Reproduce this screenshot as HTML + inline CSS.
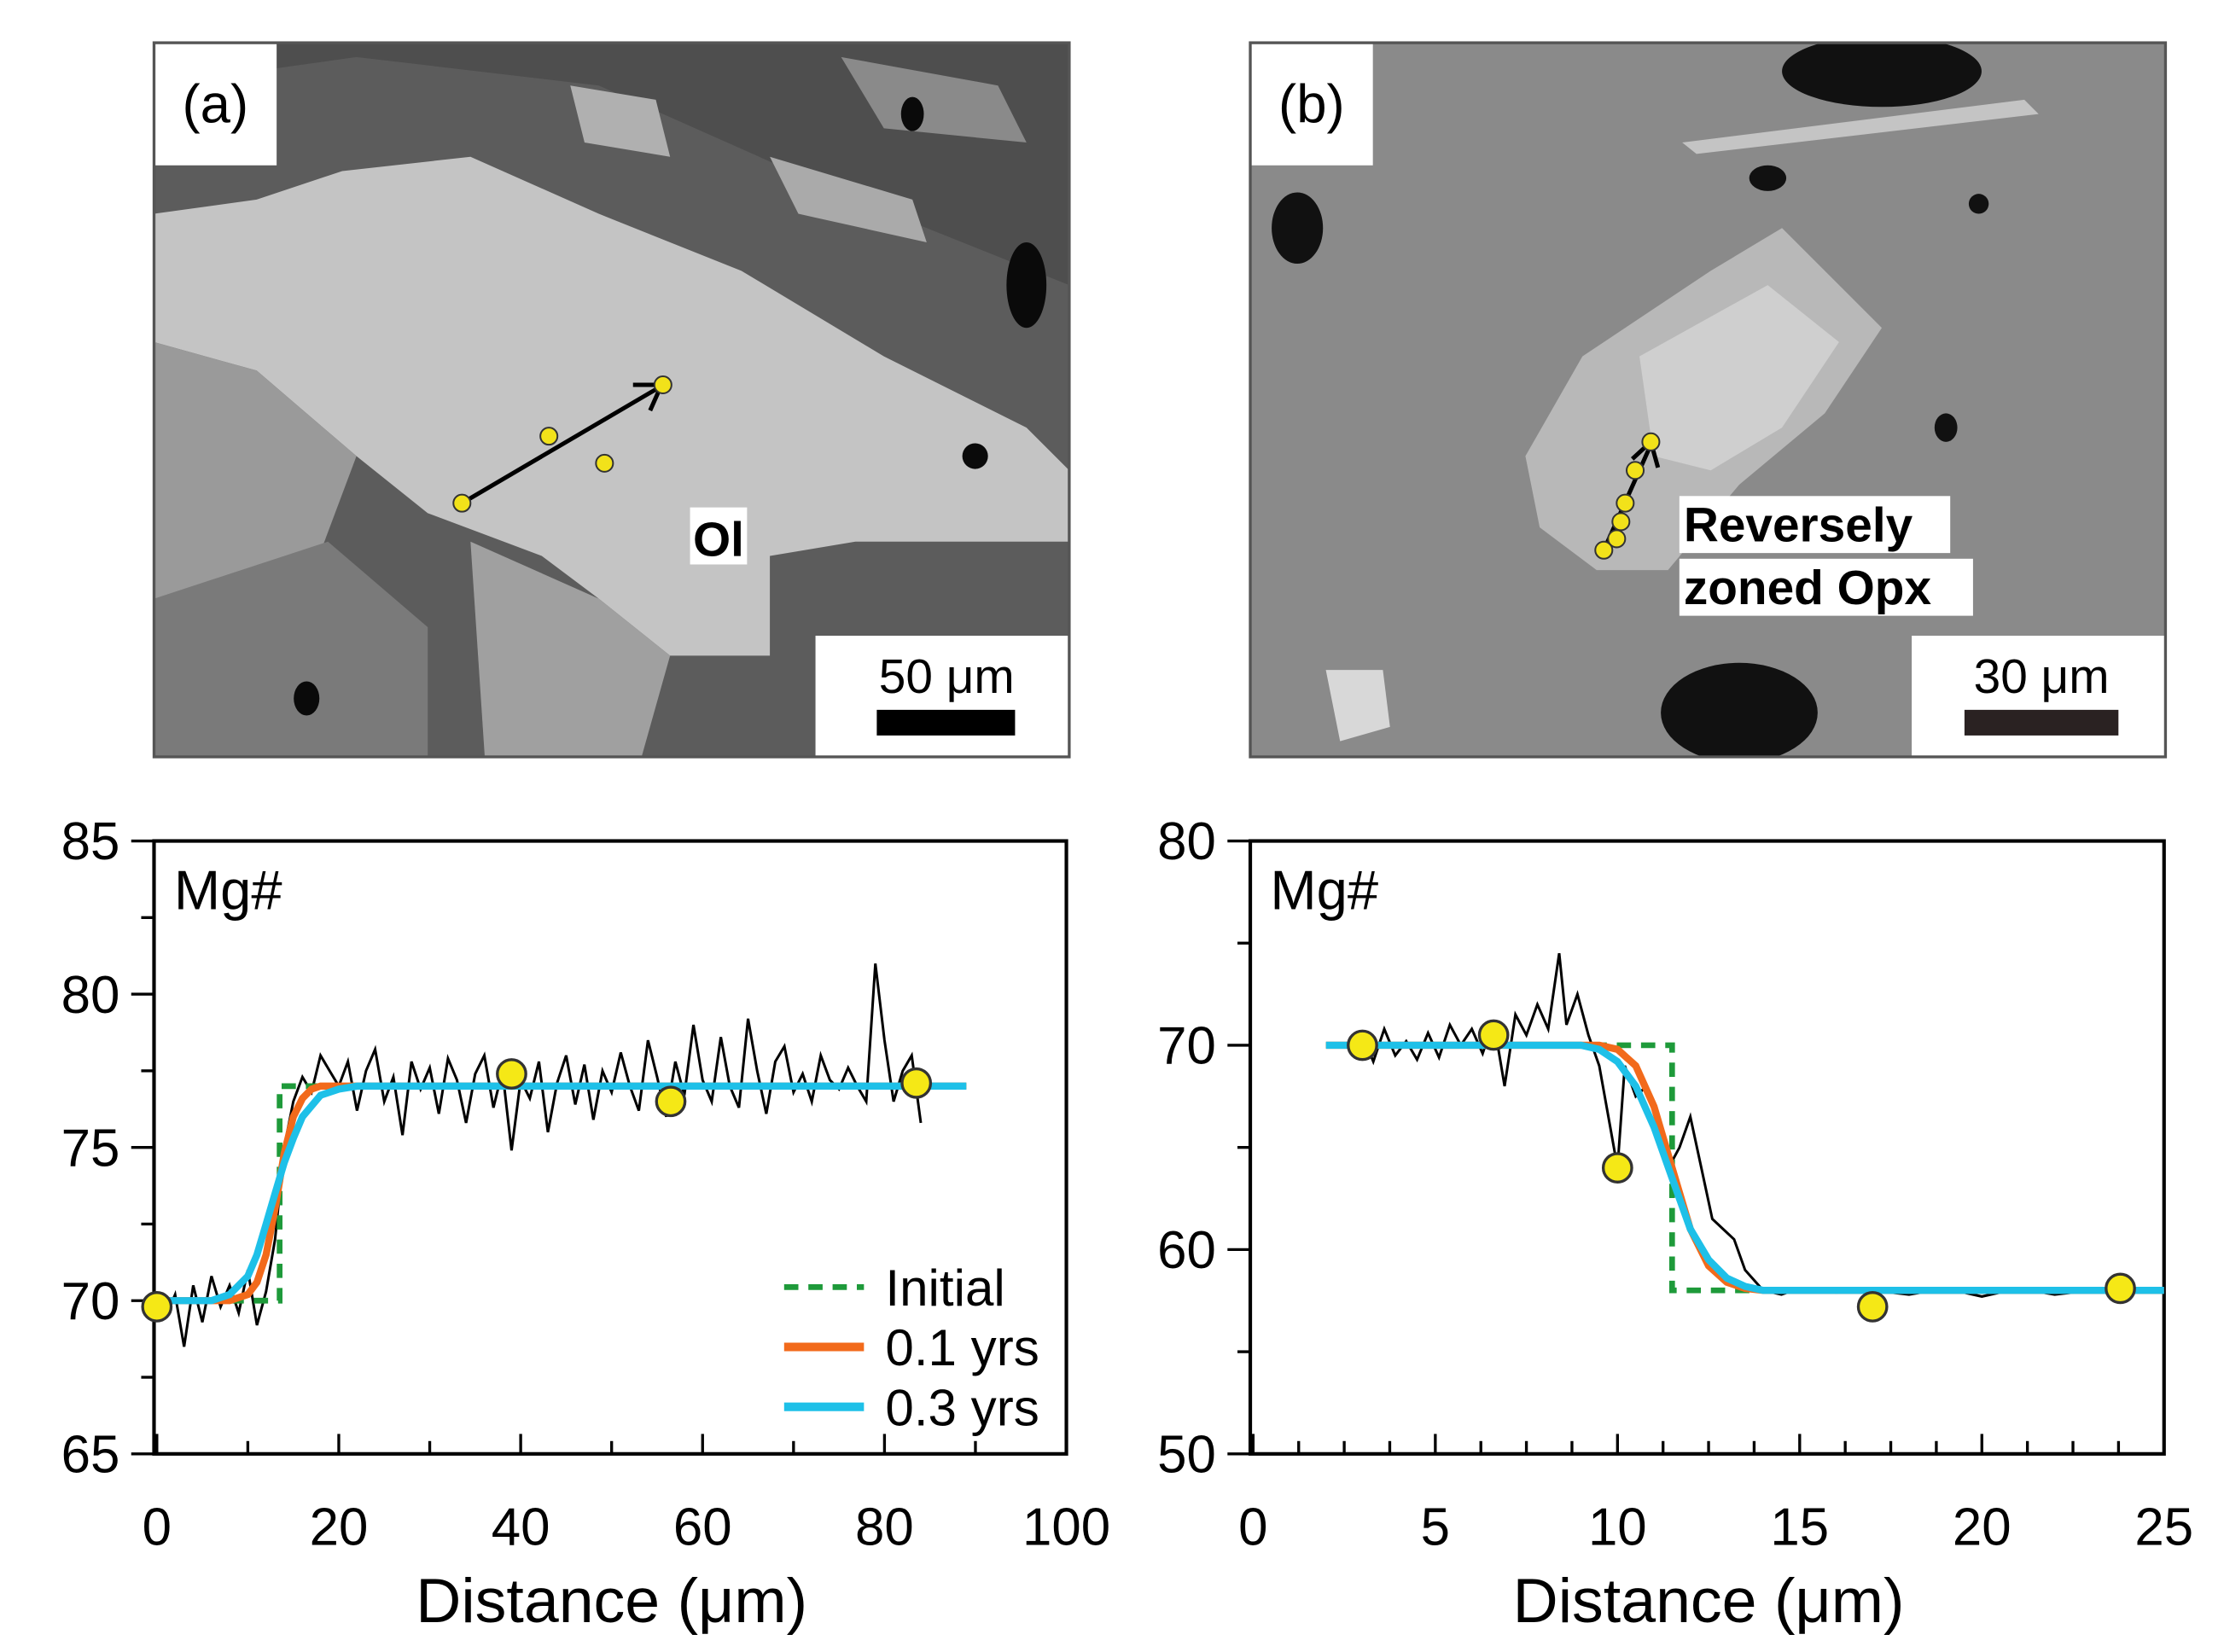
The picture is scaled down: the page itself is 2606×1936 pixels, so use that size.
<!DOCTYPE html>
<html><head><meta charset="utf-8"><style>
html,body{margin:0;padding:0;background:#fff}
svg{display:block}
text{font-family:"Liberation Sans",sans-serif}
</style></head><body>
<svg id="fig" width="2606" height="1936" viewBox="0 0 1560 1159" xmlns="http://www.w3.org/2000/svg">
<defs>
<clipPath id="ca"><rect x="108" y="30" width="642" height="501"/></clipPath>
<clipPath id="cb"><rect x="877" y="30" width="642" height="501"/></clipPath>
</defs>
<g clip-path="url(#ca)">
<rect x="108" y="30" width="642" height="501" fill="#5c5c5c"/>
<polygon points="108,30 750,30 750,200 600,140 420,60 250,40 108,60" fill="#4e4e4e"/>
<polygon points="108,150 180,140 240,120 330,110 420,150 520,190 620,250 720,300 750,330 750,380 600,380 540,390 540,460 470,460 420,420 380,390 300,360 250,320 180,260 108,240" fill="#c4c4c4"/>
<polygon points="108,240 180,260 250,320 220,400 108,420" fill="#9a9a9a"/>
<polygon points="108,420 230,380 300,440 300,531 108,531" fill="#7a7a7a"/>
<polygon points="330,380 420,420 470,460 450,531 340,531" fill="#a0a0a0"/>
<polygon points="400,60 460,70 470,110 410,100" fill="#b0b0b0"/>
<polygon points="540,110 640,140 650,170 560,150" fill="#aaaaaa"/>
<polygon points="590,40 700,60 720,100 620,90" fill="#8a8a8a"/>
<ellipse cx="720" cy="200" rx="14" ry="30" fill="#0a0a0a"/>
<ellipse cx="640" cy="80" rx="8" ry="12" fill="#0a0a0a"/>
<ellipse cx="684" cy="320" rx="9" ry="9" fill="#0a0a0a"/>
<ellipse cx="215" cy="490" rx="9" ry="12" fill="#0a0a0a"/>
<rect x="108" y="30" width="86" height="86" fill="#fff"/>
<rect x="572" y="446" width="178" height="85" fill="#fff"/>
</g>
<rect x="108" y="30" width="642" height="501" fill="none" stroke="#555" stroke-width="2"/>
<text x="151" y="86" font-size="38" text-anchor="middle">(a)</text>
<text x="664" y="486" font-size="34" text-anchor="middle">50 μm</text>
<rect x="615" y="498" width="97" height="18" fill="#000"/>
<line x1="324" y1="353" x2="462" y2="272" stroke="#000" stroke-width="3"/>
<polyline points="444,270 464,270 456,288" fill="none" stroke="#000" stroke-width="3"/>
<g fill="#f2e21a" stroke="#333" stroke-width="1.2">
<circle cx="324" cy="353" r="6"/><circle cx="385" cy="306" r="6"/><circle cx="424" cy="325" r="6"/><circle cx="465" cy="270" r="6"/></g>
<rect x="484" y="356" width="40" height="40" fill="#fff"/>
<text x="504" y="390" font-size="34" font-weight="bold" text-anchor="middle">Ol</text>

<g clip-path="url(#cb)">
<rect x="877" y="30" width="642" height="501" fill="#8a8a8a"/>
<polygon points="1070,320 1110,250 1200,190 1250,160 1320,230 1280,290 1220,340 1170,400 1120,400 1080,370" fill="#b8b8b8"/>
<polygon points="1150,250 1240,200 1290,240 1250,300 1200,330 1160,320" fill="#cfcfcf"/>
<polygon points="1180,100 1420,70 1430,80 1190,108" fill="#c4c4c4"/>
<ellipse cx="1320" cy="50" rx="70" ry="25" fill="#111"/>
<ellipse cx="1220" cy="500" rx="55" ry="35" fill="#111"/>
<ellipse cx="910" cy="160" rx="18" ry="25" fill="#111"/>
<ellipse cx="1240" cy="125" rx="13" ry="9" fill="#111"/>
<ellipse cx="1365" cy="300" rx="8" ry="10" fill="#111"/>
<ellipse cx="1388" cy="143" rx="7" ry="7" fill="#111"/>
<polygon points="930,470 970,470 975,510 940,520" fill="#d8d8d8"/>
<rect x="877" y="30" width="86" height="86" fill="#fff"/>
<rect x="1341" y="446" width="178" height="85" fill="#fff"/>
</g>
<rect x="877" y="30" width="642" height="501" fill="none" stroke="#555" stroke-width="2"/>
<text x="920" y="86" font-size="38" text-anchor="middle">(b)</text>
<text x="1432" y="486" font-size="34" text-anchor="middle">30 μm</text>
<rect x="1378" y="498" width="108" height="18" fill="#2a2222"/>
<line x1="1125" y1="386" x2="1158" y2="312" stroke="#000" stroke-width="3"/>
<polyline points="1145,322 1158,310 1163,328" fill="none" stroke="#000" stroke-width="3"/>
<g fill="#f2e21a" stroke="#333" stroke-width="1.2">
<circle cx="1125" cy="386" r="6"/><circle cx="1134" cy="378" r="6"/><circle cx="1137" cy="366" r="6"/><circle cx="1140" cy="353" r="6"/><circle cx="1147" cy="330" r="6"/><circle cx="1158" cy="310" r="6"/></g>
<rect x="1178" y="348" width="190" height="40" fill="#fff"/>
<rect x="1178" y="392" width="206" height="40" fill="#fff"/>
<text x="1181" y="380" font-size="34" font-weight="bold">Reversely</text>
<text x="1181" y="424" font-size="34" font-weight="bold">zoned Opx</text>

<g id="plotA"></g>
<g id="plotB"></g>
</svg>
<script>
const aXTicks = [0,20,40,60,80,100];
const aYTicks = [65,70,75,80,85];
const aInitX = [0,13.5,13.5,89];
const aInitY = [70,70,77,77];
const aCurve01X = [0,8,10,11,12,13,14,15,16,17,18,20,89];
const aCurve01Y = [70,70,70.2,70.6,71.5,73,74.8,76,76.6,76.9,77,77,77];
const aCurve03X = [0,6,8,10,11,12,13,14,15,16,18,20,22,89];
const aCurve03Y = [70,70,70.2,70.8,71.5,72.5,73.5,74.5,75.3,76,76.7,76.9,77,77];
const aMeasStep = 1;
const aMeasY = [70,69.5,70.2,68.5,70.5,69.3,70.8,69.8,70.5,69.6,71,69.2,70.3,72,75,76.5,77.3,76.8,78,77.5,77,
77.8,76.2,77.5,78.2,76.5,77.3,75.4,77.8,76.9,77.6,76.1,77.9,77.2,75.8,77.4,78,76.3,77.5,74.9,77.2,76.6,77.8,75.5,77.1,78,76.4,77.7,75.9,77.5,76.8,78.1,77,76.2,78.5,77.3,76,77.8,76.7,79,77.2,76.5,78.6,77,76.3,79.2,77.5,76.1,77.8,78.3,76.8,77.4,76.5,78,77.2,76.9,77.6,77,76.5,81,78.5,76.5,77.5,78,75.8];
const aPtX = [0,39,56.5,83.5];
const aPtY = [69.8,77.4,76.5,77.1];
const bXTicks = [0,5,10,15,20,25];
const bYTicks = [50,60,70,80];
const bInitX = [2,11.5,11.5,25];
const bInitY = [70,70,58,58];
const bCurve01X = [2,9.5,10,10.5,11,11.5,12,12.5,13,13.5,14,25];
const bCurve01Y = [70,70,69.8,69,67,64,61,59.2,58.4,58.1,58,58];
const bCurve03X = [2,9,9.5,10,10.5,11,11.5,12,12.5,13,13.5,14,25];
const bCurve03Y = [70,70,69.8,69.2,68,66,63.5,61,59.5,58.6,58.2,58,58];
const bMeasX = [3,3.3,3.6,3.9,4.2,4.5,4.8,5.1,5.4,5.7,6,6.3,6.6,6.9,7.2,7.5,7.8,8.1,8.4,8.6,8.9,9.2,9.5,9.8,10,10.2,10.5,10.8,11.1,11.4,11.7,12,12.3,12.6,12.9,13.2,13.5,14,14.5,15,16,17,18,19,20,21,22,23,24,25];
const bMeasY = [70.5,69.2,70.8,69.5,70.2,69.3,70.6,69.4,71,70,70.8,69.6,71.2,68,71.5,70.5,72,70.8,74.5,71,72.5,70.5,69,66,64,69,67.5,68,66.5,64,65,66.5,64,61.5,61,60.5,59,58,57.8,58.1,57.9,58,57.8,58.1,57.7,58.1,57.8,58,58.1,58];
const bPtX = [3,6.6,10,17,23.8];
const bPtY = [70,70.5,64,57.2,58.1];

const NS="http://www.w3.org/2000/svg";
function mk(parent,tag,attrs){const e=document.createElementNS(NS,tag);for(const k in attrs)e.setAttribute(k,attrs[k]);parent.appendChild(e);return e;}

function drawChart(g,cfg){
  const sx=v=>cfg.x0+(v-cfg.xmin)/(cfg.xmax-cfg.xmin)*(cfg.x1-cfg.x0);
  const sy=v=>cfg.y1-(v-cfg.ymin)/(cfg.ymax-cfg.ymin)*(cfg.y1-cfg.y0);
  const frame=mk(g,'rect',{x:cfg.x0-2,y:cfg.y0,width:cfg.x1-cfg.x0+2,height:cfg.y1-cfg.y0,fill:'none',stroke:'#000','stroke-width':2.5});
  
  
  for(let v=cfg.xmin; v<=cfg.xmax+1e-9; v+=cfg.xMinor){
    const major=cfg.xTicks.some(t=>Math.abs(t-v)<1e-6);
    mk(g,'line',{x1:sx(v),x2:sx(v),y1:cfg.y1,y2:cfg.y1-(major?14:9),stroke:'#000','stroke-width':2});
  }
  cfg.xTicks.forEach(t=>{
    const tx=mk(g,'text',{x:sx(t),y:cfg.y1+64,'font-size':37,'text-anchor':'middle'});
    tx.textContent=t;
    
    
  });
  for(let v=cfg.ymin; v<=cfg.ymax+1e-9; v+=cfg.yMinor){
    const major=cfg.yTicks.some(t=>Math.abs(t-v)<1e-6);
    mk(g,'line',{x1:cfg.x0-2,x2:cfg.x0-2-(major?16:9),y1:sy(v),y2:sy(v),stroke:'#000','stroke-width':2});
  }
  cfg.yTicks.forEach(t=>{
    const ty=mk(g,'text',{x:cfg.x0-26,y:sy(t)+13,'font-size':37,'text-anchor':'end'});
    ty.textContent=t;
    
    
  });
  const xt=mk(g,'text',{x:(cfg.x0+cfg.x1)/2,y:cfg.y1+118,'font-size':44,'text-anchor':'middle'});
  xt.textContent='Distance (μm)';
  
  
  const yt=mk(g,'text',{x:cfg.x0+12,y:cfg.y0+48,'font-size':39});
  yt.textContent='Mg#';
  
  
  const pts=(xs,ys)=>xs.map((x,i)=>sx(x).toFixed(1)+','+sy(ys[i]).toFixed(1)).join(' ');
  const meas=mk(g,'polyline',{points:pts(cfg.measX,cfg.measY),fill:'none',stroke:'#000','stroke-width':1.8});
  
  
  const ini=mk(g,'polyline',{points:pts(cfg.initX,cfg.initY),fill:'none',stroke:'#1e9a3a','stroke-width':4,'stroke-dasharray':'10,7'});
  
  
  const c1=mk(g,'polyline',{points:pts(cfg.c01X,cfg.c01Y),fill:'none',stroke:'#f26a1b','stroke-width':5});
  
  
  const c3=mk(g,'polyline',{points:pts(cfg.c03X,cfg.c03Y),fill:'none',stroke:'#1ec0e8','stroke-width':5});
  
  
  cfg.ptX.forEach((x,i)=>{
    const c=mk(g,'circle',{cx:sx(x),cy:sy(cfg.ptY[i]),r:10,fill:'#f5e816',stroke:'#333','stroke-width':2});
    
    
  });
}

const aMeasX = aMeasY.map((_,i)=>i*aMeasStep);
drawChart(document.getElementById('plotA'),{x0:110,x1:748,y0:590,y1:1020,xmin:0,xmax:100,ymin:65,ymax:85,xMinor:10,yMinor:2.5,
  xTicks:aXTicks,yTicks:aYTicks,initX:aInitX,initY:aInitY,c01X:aCurve01X,c01Y:aCurve01Y,c03X:aCurve03X,c03Y:aCurve03Y,
  measX:aMeasX,measY:aMeasY,ptX:aPtX,ptY:aPtY});
drawChart(document.getElementById('plotB'),{x0:879,x1:1518,y0:590,y1:1020,xmin:0,xmax:25,ymin:50,ymax:80,xMinor:1.25,yMinor:5,
  xTicks:bXTicks,yTicks:bYTicks,initX:bInitX,initY:bInitY,c01X:bCurve01X,c01Y:bCurve01Y,c03X:bCurve03X,c03Y:bCurve03Y,
  measX:bMeasX,measY:bMeasY,ptX:bPtX,ptY:bPtY});

const ga=document.getElementById('plotA');
const leg=[['Initial','#1e9a3a','10,7',4],['0.1 yrs','#f26a1b','',6],['0.3 yrs','#1ec0e8','',6]];
leg.forEach((L,i)=>{
  const y=903+i*42;
  const ln=mk(ga,'line',{x1:550,x2:606,y1:y,y2:y,stroke:L[1],'stroke-width':L[3],'stroke-dasharray':L[2]});
  
  
  const t=mk(ga,'text',{x:621,y:y+13,'font-size':36});
  t.textContent=L[0];
  
  
});
</script>
</body></html>
